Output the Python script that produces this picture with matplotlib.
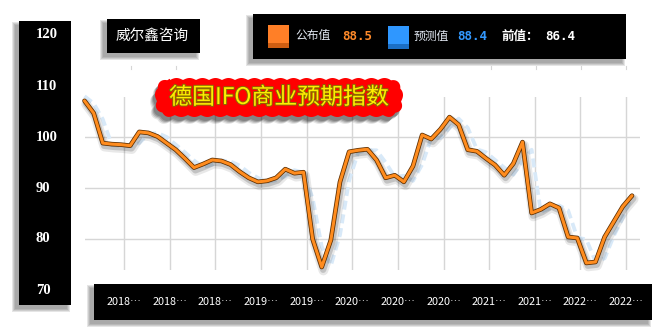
import numpy as np
import matplotlib
matplotlib.use("Agg")
import matplotlib.pyplot as plt
from matplotlib.patches import Rectangle, Polygon
from matplotlib import patheffects as pe
import matplotlib.transforms as mtrans

# ---------------- data ----------------
actual = [107.1, 104.7, 98.8, 98.6, 98.5, 98.3, 101.0, 100.8, 100.1, 98.8,
          97.5, 95.8, 94.0, 94.7, 95.5, 95.3, 94.6, 93.2, 92.0, 91.2,
          91.4, 92.0, 93.7, 92.9, 93.1, 80.0, 74.5, 79.8, 91.2, 97.1,
          97.4, 97.6, 95.5, 92.0, 92.5, 91.2, 94.3, 100.4, 99.6, 101.5,
          103.9, 102.4, 97.5, 97.2, 95.8, 94.5, 92.5, 94.8, 99.0, 85.1,
          85.8, 86.9, 86.1, 80.4, 80.2, 75.3, 75.5, 80.4, 83.4, 86.4, 88.5]
forecast = [108.0, 106.6, 103.5, 98.4, 98.3, 98.2, 98.8, 100.6, 100.8, 100.0,
            98.5, 97.0, 95.4, 94.1, 94.6, 95.4, 95.2, 94.4, 93.0, 92.0,
            91.2, 91.5, 92.3, 93.5, 93.0, 88.0, 78.5, 74.8, 80.8, 91.5,
            97.0, 97.4, 97.4, 95.0, 92.2, 92.4, 91.4, 94.6, 99.8, 99.8,
            101.8, 103.6, 101.8, 97.6, 97.0, 95.5, 94.0, 92.6, 95.2, 97.5,
            85.3, 86.0, 86.6, 85.6, 80.3, 79.9, 75.6, 76.2, 80.6, 84.2, 88.4]
ytick_vals = [120, 110, 100, 90, 80, 70]
grid_vals = [100, 90, 80]
xlabels = ["2018…", "2018…", "2018…", "2019…", "2019…", "2020…",
           "2020…", "2020…", "2021…", "2021…", "2022…", "2022…"]
title = "德国IFO商业预期指数"
brand = "威尔鑫咨询"
leg_actual, leg_fc, leg_prev = "公布值", "预测值", "前值："
val_actual, val_fc, val_prev = "88.5", "88.4", "86.4"

W, H = 661, 334
fig = plt.figure(figsize=(W / 100, H / 100), dpi=100, facecolor="white")

# ---------------- data axes ----------------
px0, px1, py0, py1 = 84.5, 640, 97, 270
step = 9.125          # pixels per category
ppu = 5.1             # pixels per index unit
ax = fig.add_axes([px0 / W, 1 - py1 / H, (px1 - px0) / W, (py1 - py0) / H])
ax.set_zorder(1)
ax.set_xlim(0, (px1 - px0) / step)
ax.set_ylim(100 - (py1 - 137) / ppu, 100 + (137 - py0) / ppu)
xtick_pos = [4.35 + 5 * k for k in range(len(xlabels))]
ax.set_xticks(xtick_pos)
ax.set_yticks(grid_vals)
ax.grid(True, color="#d6d6d6", lw=1.0)
ax.tick_params(length=0, labelbottom=False, labelleft=False)
for s in ax.spines.values():
    s.set_visible(False)
ax.patch.set_alpha(0)

x = np.arange(len(actual))
ax.plot(x, forecast, color="#d8e9f8", lw=2.7, ls=(0, (2.4, 1.3)),
        clip_on=False, zorder=2)
ax.plot(x, actual, color="#ff8c1e", lw=2.2, clip_on=False, zorder=3,
        solid_joinstyle="round", solid_capstyle="round",
        path_effects=[
            pe.SimpleLineShadow(offset=(1.2, -2.5), shadow_color="black", alpha=0.09, linewidth=7),
            pe.SimpleLineShadow(offset=(1.0, -2.0), shadow_color="black", alpha=0.16, linewidth=4.5),
            pe.Stroke(linewidth=3.3, foreground="#5a2c00"),
            pe.Normal()])

# ---------------- overlay axes ----------------
ov = fig.add_axes([0, 0, 1, 1], zorder=3)
ov.set_xlim(0, W)
ov.set_ylim(H, 0)
ov.axis("off")


def shadow_rect(x0, y0, x1, y1, dx=-4, dy=4):
    for k, a in enumerate([0.10, 0.10, 0.10, 0.08]):
        g = 3 - k
        ov.add_patch(Rectangle((x0 + dx - g, y0 + dy - g), x1 - x0 + 2 * g, y1 - y0 + 2 * g,
                               fc="black", ec="none", alpha=a))


def panel(x0, y0, x1, y1, top=5, right=5):
    shadow_rect(x0, y0, x1, y1)
    ov.add_patch(Rectangle((x0, y0), x1 - x0, y1 - y0, fc="black", ec="none"))
    g = np.linspace(0.55, 0.0, 16)[:, None]
    ov.imshow(np.repeat(g, 2, axis=1), cmap="gray", vmin=0, vmax=1, aspect="auto",
              extent=(x0, x1 - right, y0 + top, y0), origin="upper", interpolation="bilinear")
    g2 = np.array([0.0, 0.35, 0.62, 0.55, 0.40])[None, :]
    ov.imshow(np.repeat(g2, 2, axis=0), cmap="gray", vmin=0, vmax=1, aspect="auto",
              extent=(x1 - right, x1, y1, y0), origin="upper", interpolation="bilinear")


# y-axis panel
panel(19, 21, 71, 305, top=5, right=5)
ytr = mtrans.blended_transform_factory(ov.transData, ax.transData)
for v in ytick_vals:
    ov.text(36, v, str(v), transform=ytr, color="white", fontsize=10.5,
            family="Liberation Serif", weight="bold", ha="left", va="center")

# brand box
panel(107, 19, 200, 53, top=4, right=5)
ov.text(152, 36, brand, color="white", fontsize=10.5, family="Noto Sans CJK SC",
        ha="center", va="center")

# legend box
panel(253, 14, 626, 59, top=5, right=5)
ov.add_patch(Rectangle((268, 25), 21, 23, fc="#ff7f27", ec="none"))
ov.add_patch(Rectangle((268, 43), 21, 5, fc="#cf5e12", ec="none"))
ov.text(295, 36, leg_actual, color="#e2e8f2", fontsize=8.5, family="Noto Sans CJK SC",
        ha="left", va="center")
ov.text(342, 36.5, val_actual, color="#ff8a2a", fontsize=9, family="DejaVu Sans Mono",
        weight="bold", ha="left", va="center")
ov.add_patch(Rectangle((388, 26), 21, 23, fc="#2f97ff", ec="none"))
ov.add_patch(Rectangle((388, 44), 21, 5, fc="#1b6fc6", ec="none"))
ov.text(414, 36, leg_fc, color="#e2e8f2", fontsize=8.5, family="Noto Sans CJK SC",
        ha="left", va="center")
ov.text(457, 36.5, val_fc, color="#3399ff", fontsize=9, family="DejaVu Sans Mono",
        weight="bold", ha="left", va="center")
ov.text(502, 36, leg_prev, color="white", fontsize=9, family="Noto Sans CJK SC",
        weight="bold", ha="left", va="center")
ov.text(545, 36.5, val_prev, color="white", fontsize=9, family="DejaVu Sans Mono",
        weight="bold", ha="left", va="center")

# x label bar
panel(94, 284, 652, 320, top=5, right=6)
xtr = mtrans.blended_transform_factory(ax.transData, ov.transData)
for p, lab in zip(xtick_pos, xlabels):
    ov.text(p, 302, lab, transform=xtr, color="white", fontsize=7.8,
            family=["Noto Sans CJK SC", "DejaVu Sans"], ha="center", va="center")

# faint top marks
for xm in [131, 176, 491, 536, 581, 626]:
    ov.plot([xm, xm], [65.5, 69], color="#d6d6d6", lw=0.8)


# title blob
def bumpy_rrect(x0, y0, x1, y1, r, amp, period, n=900):
    def arc(cx, cy, a0, a1):
        a = np.linspace(a0, a1, 40)
        return np.c_[cx + r * np.cos(a), cy + r * np.sin(a)]
    top = np.c_[np.linspace(x0 + r, x1 - r, 100), np.full(100, y0)]
    right = np.c_[np.full(30, x1), np.linspace(y0 + r, y1 - r, 30)]
    bottom = np.c_[np.linspace(x1 - r, x0 + r, 100), np.full(100, y1)]
    left = np.c_[np.full(30, x0), np.linspace(y1 - r, y0 + r, 30)]
    P = np.vstack([top, arc(x1 - r, y0 + r, -np.pi / 2, 0), right,
                   arc(x1 - r, y1 - r, 0, np.pi / 2), bottom,
                   arc(x0 + r, y1 - r, np.pi / 2, np.pi), left,
                   arc(x0 + r, y0 + r, np.pi, 1.5 * np.pi)])
    d = np.r_[0, np.cumsum(np.hypot(*np.diff(P, axis=0).T))]
    s = np.linspace(0, d[-1], n)
    P = np.c_[np.interp(s, d, P[:, 0]), np.interp(s, d, P[:, 1])]
    T = np.gradient(P, axis=0)
    T /= np.linalg.norm(T, axis=1)[:, None]
    N = np.c_[T[:, 1], -T[:, 0]]
    bump = amp * np.abs(np.sin(np.pi * s / period))
    return P + N * bump[:, None]


blob = bumpy_rrect(157, 80, 401, 115, 13, 2.0, 13)
for (dx, dy, a) in [(-5, 7, 0.10), (-4, 6, 0.14), (-3, 5, 0.18), (-2, 4, 0.18)]:
    ov.add_patch(Polygon(blob + np.array([dx, dy]), closed=True, fc="black", ec="none", alpha=a))
ov.add_patch(Polygon(blob, closed=True, fc="#ff0000", ec="none"))
ov.text(279, 97.5, title, color="#ffee00", fontsize=16.5, family="Noto Sans CJK SC",
        ha="center", va="center",
        path_effects=[pe.Stroke(linewidth=1.4, foreground="#8a6a00"), pe.Normal()])

ov.set_xlim(0, W)
ov.set_ylim(H, 0)
fig.savefig("out.png", dpi=100, facecolor="white")
